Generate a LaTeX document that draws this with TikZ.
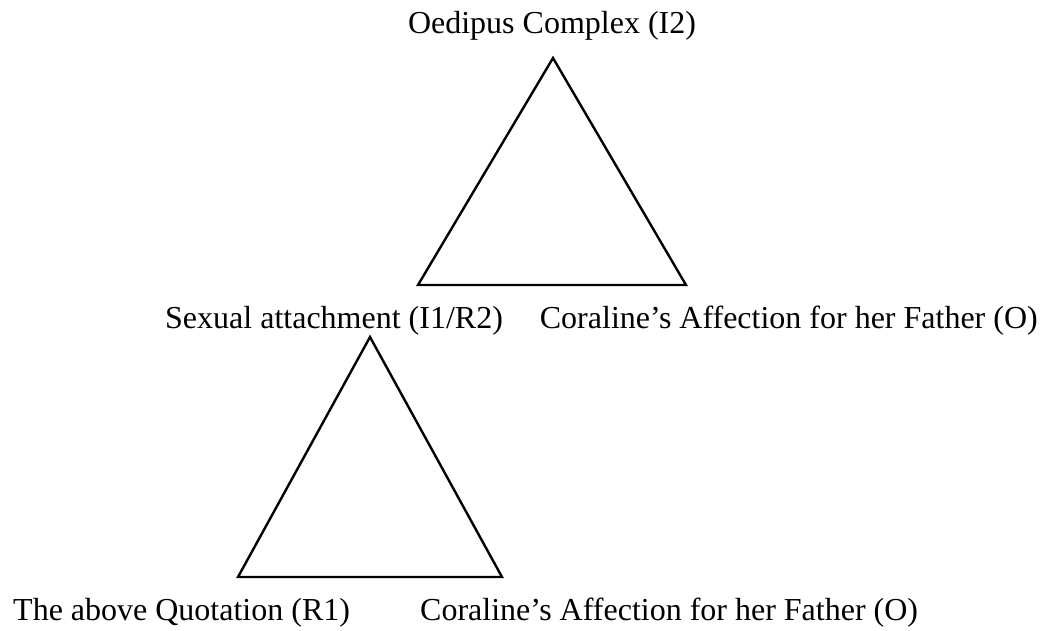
\documentclass[tikz,border=0pt]{standalone}
\usepackage{fontspec}
\setmainfont{Liberation Serif}
\begin{document}
\begin{tikzpicture}[x=1pt,y=-1pt,
  lbl/.style={inner sep=0pt,font=\fontsize{32}{38}\selectfont},
  tri/.style={draw=black,line width=2.4pt,line join=miter}]
\useasboundingbox (0,0) rectangle (1045,630);
% top triangle
\coordinate (a1) at (553,58);
\coordinate (b1) at (418,285);
\coordinate (c1) at (686,285);
\draw[tri] (a1) -- (b1) -- (c1) -- cycle;
% bottom triangle
\coordinate (a2) at (370,337);
\coordinate (b2) at (238,577);
\coordinate (c2) at (502,577);
\draw[tri] (a2) -- (b2) -- (c2) -- cycle;
% labels
\node[lbl,anchor=base] (oed) at (552,33) {Oedipus Complex (I2)};
\node[lbl,anchor=base west] (sex) at (165,328) {Sexual attachment (I1/R2)};
\node[lbl,anchor=base east] (cor1) at (1038,328) {Coraline’s Affection for her Father (O)};
\node[lbl,anchor=base west] (quo) at (13,620) {The above Quotation (R1)};
\node[lbl,anchor=base west] (cor2) at (420,620) {Coraline’s Affection for her Father (O)};
\end{tikzpicture}
\end{document}
